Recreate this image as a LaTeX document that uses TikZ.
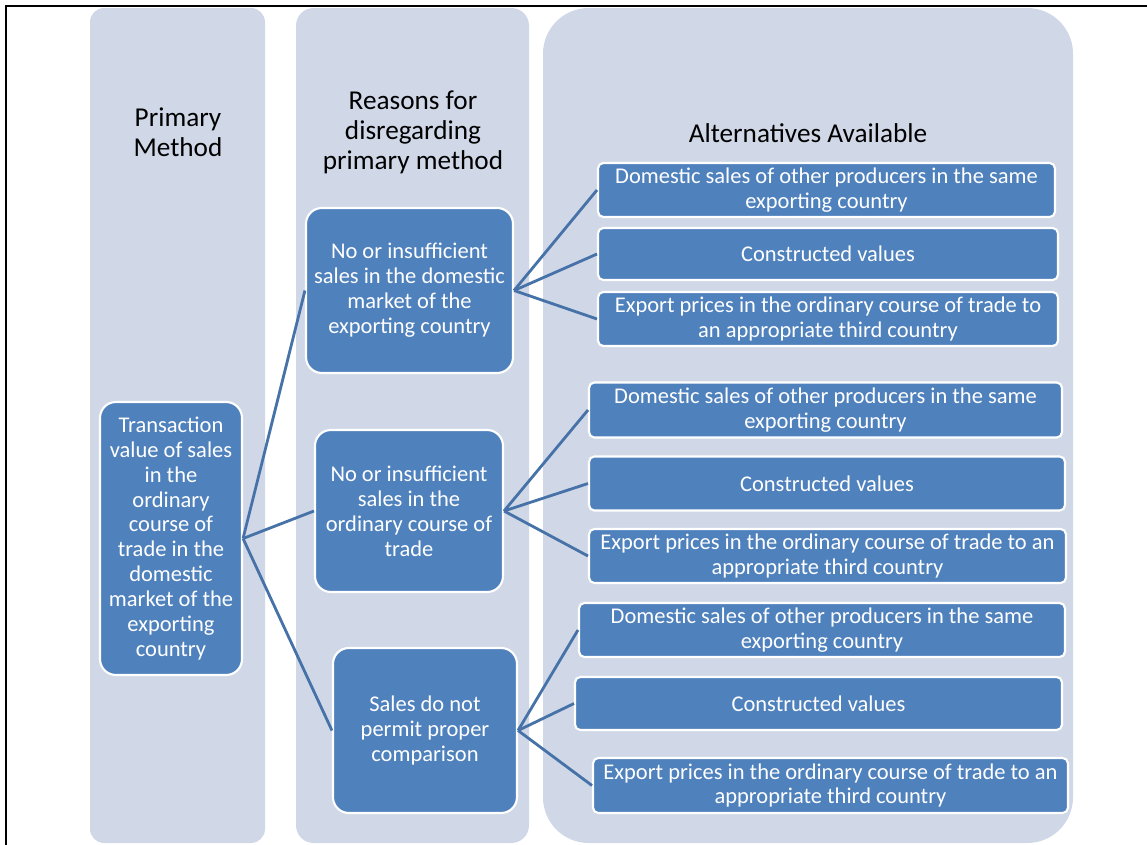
\documentclass[tikz,border=0pt]{standalone}
\usepackage{fontspec}
\setmainfont{Carlito}
\usepackage{tikz}
\usetikzlibrary{calc}
\definecolor{colbg}{HTML}{D0D8E8}
\definecolor{boxblue}{HTML}{4F81BD}
\definecolor{linkblue}{HTML}{4672A8}

\begin{document}
\begin{tikzpicture}[
    x=0.02cm, y=-0.02cm,
    column/.style={fill=colbg},
    headtext/.style={
        align=center, text=black,
        font=\fontsize{15.5}{17}\selectfont,
    },
    bluebox/.style={
        draw=white, line width=1.2pt, fill=boxblue,
        rounded corners=4pt, text=white, align=center,
        inner sep=2pt,
        font=\fontsize{12.8}{14.2}\selectfont,
    },
    reasonbox/.style={bluebox, rounded corners=9pt},
    altbox/.style={bluebox, rounded corners=3pt},
    link/.style={linkblue, line width=1.6pt},
]
\useasboundingbox (0,0) rectangle (1147,845);

% =============================================
% FRAME AND COLUMN BACKGROUNDS
% =============================================
\draw[black, line width=1.1pt] (6,845) -- (6,6) -- (1147,6);
\fill[column, rounded corners=8pt] (90,8) rectangle (265,843);
\fill[column, rounded corners=10pt] (296,8) rectangle (529,843);
\fill[column, rounded corners=26pt] (543,8) rectangle (1073,843);

% Column headings
\node[headtext] (hprim) at (178,132) {Primary\\Method};
\node[headtext] (hreason) at (413,132) {Reasons for\\disregarding\\primary method};
\node[headtext] (halt) at (808,133) {Alternatives Available};

% =============================================
% PRIMARY METHOD
% =============================================
\node[reasonbox, minimum width=2.84cm, minimum height=5.46cm] (prim) at (171,538.5)
  {Transaction\\value of sales\\in the\\ordinary\\course of\\trade in the\\domestic\\market of the\\exporting\\country};

% =============================================
% REASONS
% =============================================
\node[reasonbox, minimum width=4.14cm, minimum height=3.3cm] (rdom) at (409.5,290.5)
  {No or insufficient\\sales in the domestic\\market of the\\exporting country};
\node[reasonbox, minimum width=3.76cm, minimum height=3.24cm] (rord) at (409,511)
  {No or insufficient\\sales in the\\ordinary course of\\trade};
\node[reasonbox, minimum width=3.68cm, minimum height=3.3cm] (rcmp) at (425,730.5)
  {Sales do not\\permit proper\\comparison};

% =============================================
% ALTERNATIVES
% =============================================
% group 1
\node[altbox, minimum width=9.14cm, minimum height=1.08cm] (aone) at (826.5,190)
  {Domestic sales of other producers in the same\\exporting country};
\node[altbox, minimum width=9.2cm, minimum height=1.04cm] (atwo) at (828,254)
  {Constructed values};
\node[altbox, minimum width=9.2cm, minimum height=1.08cm] (athree) at (828,319)
  {Export prices in the ordinary course of trade to\\an appropriate third country};
% group 2
\node[altbox, minimum width=9.46cm, minimum height=1.1cm] (afour) at (825.5,410)
  {Domestic sales of other producers in the same\\exporting country};
\node[altbox, minimum width=9.52cm, minimum height=1.08cm] (afive) at (827,483.5)
  {Constructed values};
\node[altbox, minimum width=9.54cm, minimum height=1.08cm] (asix) at (827.5,556)
  {Export prices in the ordinary course of trade to an\\appropriate third country};
% group 3
\node[altbox, minimum width=9.72cm, minimum height=1.08cm] (aseven) at (822,630)
  {Domestic sales of other producers in the same\\exporting country};
\node[altbox, minimum width=9.74cm, minimum height=1.06cm] (aeight) at (818.5,703.5)
  {Constructed values};
\node[altbox, minimum width=9.5cm, minimum height=1.1cm] (anine) at (830.5,785.5)
  {Export prices in the ordinary course of trade to an\\appropriate third country};

% =============================================
% CONNECTORS
% =============================================
\draw[link] (prim.east) -- (rdom.west);
\draw[link] (prim.east) -- (rord.west);
\draw[link] (prim.east) -- (rcmp.west);

\draw[link] (rdom.east) -- (aone.west);
\draw[link] (rdom.east) -- (atwo.west);
\draw[link] (rdom.east) -- (athree.west);

\draw[link] (rord.east) -- (afour.west);
\draw[link] (rord.east) -- (afive.west);
\draw[link] (rord.east) -- (asix.west);

\draw[link] (rcmp.east) -- (aseven.west);
\draw[link] (rcmp.east) -- (aeight.west);
\draw[link] (rcmp.east) -- (anine.west);

\end{tikzpicture}
\end{document}
